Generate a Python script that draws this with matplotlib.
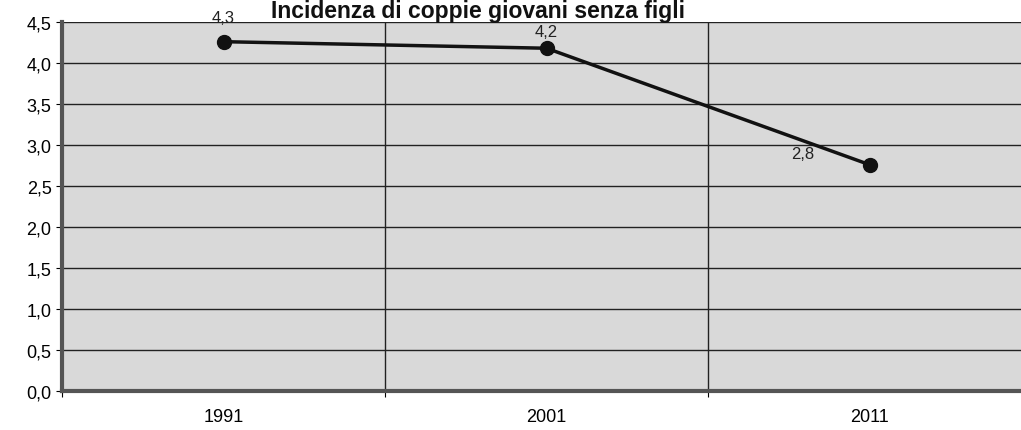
"""
Incidenza di coppie giovani senza figli - grafico a linee
"""

import matplotlib
matplotlib.use("Agg")
import matplotlib.pyplot as plt
from matplotlib.ticker import FuncFormatter


plt.rcParams["font.family"] = ["Liberation Sans", "DejaVu Sans"]

# dati
anni = ["1991", "2001", "2011"]
valori = [4.26, 4.18, 2.76]
etichette = ["4,3", "4,2", "2,8"]
y_ticks = [0.0, 0.5, 1.0, 1.5, 2.0, 2.5, 3.0, 3.5, 4.0, 4.5]


fig = plt.figure(figsize=(10.21, 4.31), dpi=100)

# area del grafico (il bordo destro esce dall'immagine)
left = 62 / 1021
right = 1031 / 1021
bottom = (431 - 392) / 431
top = 23 / 431
ax = fig.add_axes([left, bottom, right - left, 1 - top - bottom])

ax.set_facecolor("#d9d9d9")

x = list(range(len(anni)))
ax.plot(x, valori, color="#111111", linewidth=2.5,
        marker="o", markersize=10, zorder=3)

# etichette dei valori
offsets = [(0, 12), (0, 7), (-48, 3)]
for xi, yi, testo, off in zip(x, valori, etichette, offsets):
    ax.annotate(testo, (xi, yi), xytext=off, textcoords="offset points",
                ha="center", va="bottom", fontsize=12, color="#222222")

ax.set_xlim(-0.5, 2.5)
ax.set_ylim(0, 4.5)

ax.set_yticks(y_ticks)
ax.yaxis.set_major_formatter(
    FuncFormatter(lambda v, p: f"{v:.1f}".replace(".", ",")))

# categorie: tick ai confini, etichette al centro
ax.set_xticks([-0.5, 0.5, 1.5, 2.5])
ax.set_xticklabels([])
ax.set_xticks(x, minor=True)
ax.set_xticklabels(anni, minor=True)
ax.tick_params(axis="x", which="minor", length=0, pad=12, labelsize=13)
ax.tick_params(axis="x", which="major", length=4, direction="out")
ax.tick_params(axis="y", length=4, direction="out", labelsize=13)

ax.grid(True, which="major", color="#222222", linewidth=1)

for lato in ["top", "right"]:
    ax.spines[lato].set_visible(False)
ax.spines["left"].set_linewidth(3)
ax.spines["left"].set_color("#555555")
ax.spines["bottom"].set_linewidth(3)
ax.spines["bottom"].set_color("#555555")

# titolo
fig.text(478 / 1021, 1 - 18 / 431, "Incidenza di coppie giovani senza figli",
         ha="center", va="baseline", fontsize=16.5, fontweight="bold",
         color="#111111")

fig.savefig("out.png", dpi=100)
